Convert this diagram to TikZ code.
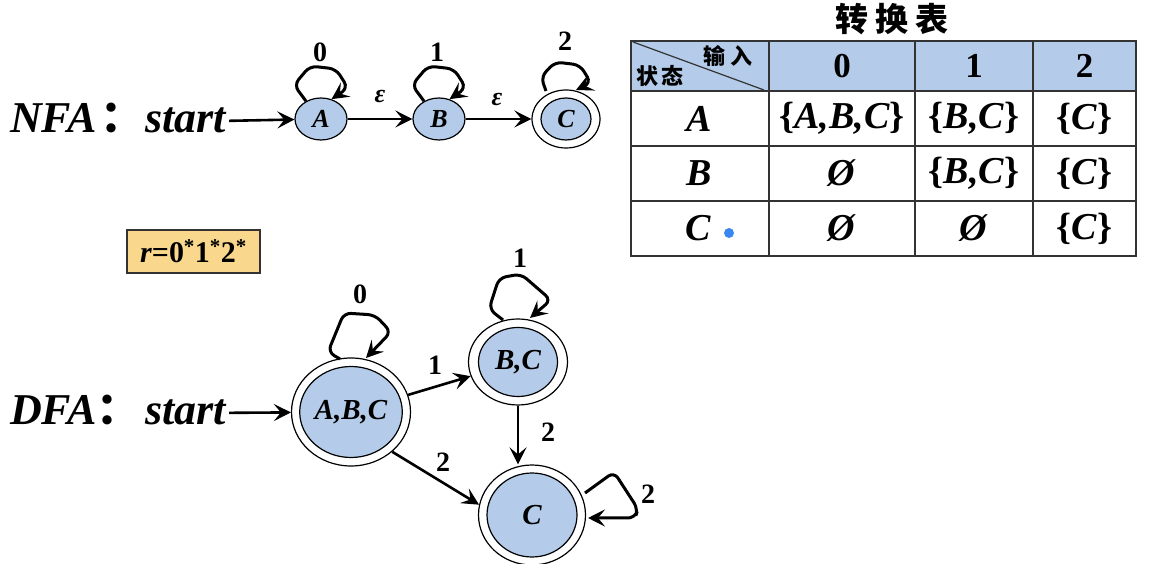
\documentclass[tikz,border=0pt]{standalone}
\usepackage{fontspec}
\setmainfont{Liberation Serif}
\newfontfamily\cjk{Noto Sans CJK SC}
\usetikzlibrary{shapes.geometric,arrows.meta}
\definecolor{nodeblue}{HTML}{B4CCE9}
\definecolor{boxorange}{HTML}{F9D78C}
\definecolor{dotblue}{HTML}{3B87F0}
\definecolor{gridgray}{HTML}{333333}
\tikzset{
  arr/.style={line width=2.6pt, -{Stealth[length=17pt,width=17pt,inset=7pt]}},
  loopc/.style={line width=3pt, rounded corners=7pt, -{Stealth[length=17pt,width=17pt,inset=7pt]}},
  nstate/.style={ellipse, draw, line width=1.2pt, fill=nodeblue, minimum width=52pt, minimum height=42pt, inner sep=0pt, font=\fontsize{26}{26}\selectfont\bfseries\itshape},
  outerst/.style={ellipse, draw, line width=1.2pt, fill=white, inner sep=0pt},
  innerst/.style={ellipse, draw, line width=1.2pt, fill=nodeblue, inner sep=0pt, font=\fontsize{29}{29}\selectfont\bfseries\itshape},
  bigtxt/.style={inner sep=0pt, anchor=base west, font=\fontsize{44}{44}\selectfont\bfseries\itshape},
  lab/.style={inner sep=0pt, font=\fontsize{28}{28}\selectfont\bfseries},
  cell/.style={inner sep=0pt, font=\fontsize{38}{38}\selectfont\bfseries},
  hcell/.style={inner sep=0pt, font=\fontsize{35}{35}\selectfont\bfseries},
}
\begin{document}
\begin{tikzpicture}[x=1pt,y=1pt]
\useasboundingbox (0,0) rectangle (1155,564);
% ---------- NFA ----------
\node[bigtxt] (nfa) at (10,431) {NFA\hspace{4pt}{\cjk\bfseries\upshape ：}};
\node[bigtxt] (nstart) at (145,431) {start};
\node[nstate] (A) at (321,445) {A};
\node[nstate] (B) at (439,445) {B};
\node[outerst, minimum width=68pt, minimum height=58pt] (C) at (566,445) {};
\node[nstate, minimum width=50pt, minimum height=42pt] (Ci) at (566,445) {C};
\path (nstart.east) ++(3pt,0) coordinate (ns);
\draw[arr] (ns) -- (A);
\draw[arr] (A) -- (B);
\draw[arr] (B) -- (C);
\node[lab, font=\fontsize{26}{26}\selectfont\bfseries\itshape] (e1) at (380,467) {ε};
\node[lab, font=\fontsize{26}{26}\selectfont\bfseries\itshape] (e2) at (497,464) {ε};
\draw[loopc] (A.130) -- ([shift={(-27,34)}]A.center) -- ([shift={(-11,53)}]A.center)
  -- ([shift={(15,50)}]A.center) -- ([shift={(27,31)}]A.center) -- (A.62);
\draw[loopc] (B.130) -- ([shift={(-27,34)}]B.center) -- ([shift={(-11,53)}]B.center)
  -- ([shift={(15,50)}]B.center) -- ([shift={(27,31)}]B.center) -- (B.62);
\draw[loopc] ([shift={(-20,28)}]C.center) -- ([shift={(-25,42)}]C.center) -- ([shift={(-11,57)}]C.center)
  -- ([shift={(14,54)}]C.center) -- ([shift={(25,36)}]C.center) -- ([shift={(10,29)}]C.center);
\node[lab] (l0) at (320,512) {0};
\node[lab] (l1) at (437,512) {1};
\node[lab] (l2) at (565,523) {2};
% ---------- table ----------
\node[inner sep=0pt, font=\fontsize{33}{33}\selectfont\cjk\bfseries] (title) at (892,545) {转\hspace{7pt}换\hspace{7pt}表};
\fill[nodeblue] (631,473) rectangle (1136,523);
\draw[gridgray, line width=1.2pt] (631,308) rectangle (1136,523);
\foreach \yy in {473,418,363} \draw[gridgray, line width=1.2pt] (631,\yy) -- (1136,\yy);
\foreach \xx in {769,915,1033} \draw[gridgray, line width=1.2pt] (\xx,308) -- (\xx,523);
\draw[gridgray, line width=1.2pt] (633,522) -- (764,474);
\node[inner sep=0pt, font=\fontsize{22}{22}\selectfont\cjk\bfseries] (hin) at (728,508) {输\hspace{6pt}入};
\node[inner sep=0pt, font=\fontsize{22}{22}\selectfont\cjk\bfseries] (hst) at (660,488) {状\hspace{4pt}态};
\node[hcell] (h0) at (842,498) {0};
\node[hcell] (h1) at (974,498) {1};
\node[hcell] (h2) at (1084.5,498) {2};
\node[cell] (rA) at (699,445.5) {\itshape A};
\node[cell] (rB) at (699,390.5) {\itshape B};
\node[cell] (rC) at (698,335.5) {\itshape C};
\fill[dotblue] (729,331) circle (5pt);
\node[cell] (aa) at (842,445.5) {\{\textit{A,B,C}\}};
\node[cell] (ab) at (974,445.5) {\{\textit{B,C}\}};
\node[cell] (ac) at (1084.5,445.5) {\{\textit{C}\}};
\node[cell] (ba) at (842,390.5) {\textit{Ø}};
\node[cell] (bb) at (974,390.5) {\{\textit{B,C}\}};
\node[cell] (bc) at (1084.5,390.5) {\{\textit{C}\}};
\node[cell] (ca) at (842,335.5) {\textit{Ø}};
\node[cell] (cb) at (974,335.5) {\textit{Ø}};
\node[cell] (cc) at (1084.5,335.5) {\{\textit{C}\}};
% ---------- regex box ----------
\node[draw=gridgray, line width=1.2pt, fill=boxorange, minimum width=133pt, minimum height=43pt, inner sep=0pt, font=\fontsize{30}{30}\selectfont\bfseries] (rbox) at (193.5,312.5) {\textit{r}=0\textsuperscript{*}1\textsuperscript{*}2\textsuperscript{*}};
% ---------- DFA ----------
\node[bigtxt] (dfa) at (10,139) {DFA{\cjk\bfseries\upshape ：}};
\node[bigtxt] (dstart) at (145,139) {start};
\node[outerst, minimum width=119pt, minimum height=108pt] (S) at (351,152) {};
\node[innerst, minimum width=100pt, minimum height=91pt] (Si) at (351,152) {A,B,C};
\node[outerst, minimum width=99pt, minimum height=86pt] (T) at (518,202) {};
\node[innerst, minimum width=79pt, minimum height=69pt] (Ti) at (518,202) {B,C};
\node[outerst, minimum width=107pt, minimum height=100pt] (U) at (532,49) {};
\node[innerst, minimum width=90pt, minimum height=84pt] (Ui) at (532,49) {C};
\path (dstart.east) ++(3pt,0) coordinate (ds);
\draw[arr] (ds) -- (S);
\draw[arr] (S) -- (T);
\draw[arr] (S.-44) -- (U.169);
\draw[arr] (T.south) -- (T.south |- U.north);
\draw[loopc] ([shift={(-11,53)}]S.center) -- ([shift={(-23,60)}]S.center) -- ([shift={(-7,99)}]S.center)
  -- ([shift={(24,97)}]S.center) -- ([shift={(40,80)}]S.center) -- ([shift={(15,54)}]S.center);
\draw[loopc] ([shift={(-15,42)}]T.center) -- ([shift={(-29,53)}]T.center) -- ([shift={(-19,84)}]T.center)
  -- ([shift={(3,88)}]T.center) -- ([shift={(33,62)}]T.center) -- ([shift={(12,44)}]T.center);
\draw[loopc] ([shift={(53,22)}]U.center) -- ([shift={(82,43)}]U.center) -- ([shift={(106,6)}]U.center)
  -- ([shift={(103,-3)}]U.center) -- ([shift={(56,-3)}]U.center);
\node[lab] (d0) at (360,270) {0};
\node[lab] (d1) at (520,306) {1};
\node[lab] (d1b) at (435,199) {1};
\node[lab] (d2a) at (443,102) {2};
\node[lab] (d2b) at (548,132) {2};
\node[lab] (d2c) at (648,70) {2};
\end{tikzpicture}
\end{document}
